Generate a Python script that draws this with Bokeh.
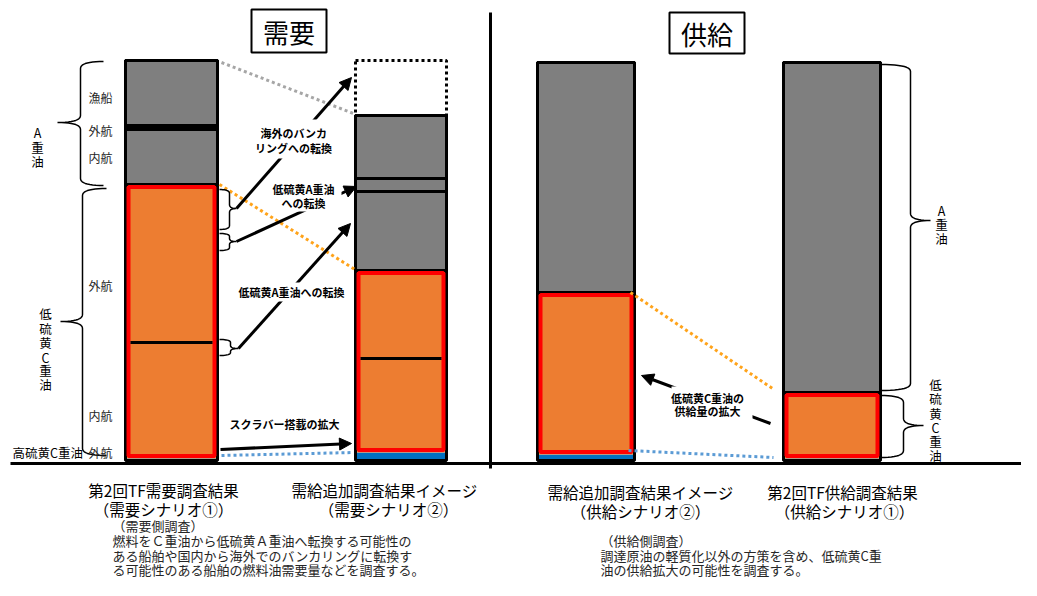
import numpy as np
from bokeh.plotting import figure
from bokeh.models import Range1d, Arrow, NormalHead, Label, BoxAnnotation
from bokeh.core.properties import value
from bokeh.embed import file_html
from bokeh.resources import INLINE

FONT = "Noto Sans CJK JP"

# ---------------- data ----------------
panel_titles = ["需要", "供給"]
scenario_titles = ["第2回TF需要調査結果", "需給追加調査結果イメージ", "需給追加調査結果イメージ", "第2回TF供給調査結果"]
scenario_subtitles = ["（需要シナリオ①）", "（需要シナリオ②）", "（供給シナリオ②）", "（供給シナリオ①）"]

demand_segments = ["高硫黄C重油 外航", "低硫黄C重油 内航", "低硫黄C重油 外航", "A重油 内航", "A重油 外航", "A重油 漁船"]
demand_scenario1 = [0.5, 29.0, 39.5, 13.75, 1.0, 16.25]
demand_scenario2 = [2.0, 23.5, 22.0, 19.75, 3.25, 15.75]
demand_scenario2_overseas = [13.75]   # 海外のバンカリングへの転換

supply_segments = ["高硫黄C重油", "低硫黄C重油", "A重油"]
supply_scenario2 = [1.5, 40.5, 57.5]
supply_scenario1 = [0.5, 16.5, 82.5]

demand_note = ["（需要側調査）",
               "燃料をＣ重油から低硫黄Ａ重油へ転換する可能性の",
               "ある船舶や国内から海外でのバンカリングに転換す",
               "る可能性のある船舶の燃料油需要量などを調査する。"]
supply_note = ["（供給側調査）",
               "調達原油の軽質化以外の方策を含め、低硫黄C重",
               "油の供給拡大の可能性を調査する。"]

arrow_texts = [["海外のバンカ", "リングへの転換"], ["低硫黄A重油", "への転換"],
               ["低硫黄A重油への転換"], ["スクラバー搭載の拡大"], ["低硫黄C重油の", "供給量の拡大"]]

# ---------------- styles / layout ----------------
GRAY = "#7f7f7f"
ORANGE = "#ed7d31"
RED = "#ff0000"
BLUE = "#0070c0"
BASE_PX = 460.0
PX_PER_UNIT = 4.0
W, H = 1021, 580


def Y(px):
    return (BASE_PX - px) / PX_PER_UNIT


p = figure(width=W, height=H, x_range=Range1d(0, W), y_range=Range1d(Y(H), Y(0)),
           x_axis_type=None, y_axis_type=None, toolbar_location=None, output_backend="svg",
           min_border=0, outline_line_color=None, background_fill_color="white")


def txt(x, ypx, s, size, align="center", bold=False, color="black"):
    p.text(x=[x], y=[Y(ypx)], text=[s], text_font=value(FONT), text_font_size=f"{size}px",
           text_align=align, text_baseline="middle", text_color=color,
           text_font_style="bold" if bold else "normal")


def vtxt(x, ypx_list, s, size=12.5):
    for ch, yy in zip(s, ypx_list):
        txt(x, yy, ch, size)


def qb(p0, c, p1, n=12):
    t = np.linspace(0, 1, n)
    xs = (1 - t) ** 2 * p0[0] + 2 * (1 - t) * t * c[0] + t ** 2 * p1[0]
    ys = (1 - t) ** 2 * p0[1] + 2 * (1 - t) * t * c[1] + t ** 2 * p1[1]
    return list(xs), list(ys)


def brace(xe, xs, xt, y0, y1, ym=None, r=7, lw=1.5):
    if ym is None:
        ym = (y0 + y1) / 2
    r = min(r, (ym - y0) / 2, (y1 - ym) / 2)
    X, YY = [], []
    for seg in [qb((xe, y0), (xs, y0), (xs, y0 + r)),
                ([xs, xs], [y0 + r, ym - r]),
                qb((xs, ym - r), (xs, ym), (xt, ym)),
                qb((xt, ym), (xs, ym), (xs, ym + r)),
                ([xs, xs], [ym + r, y1 - r]),
                qb((xs, y1 - r), (xs, y1), (xe, y1))]:
        X += list(seg[0])
        YY += list(seg[1])
    p.line(X, [Y(v) for v in YY], line_color="black", line_width=lw)


def draw_bar(x0, x1, names, vals):
    cum = np.concatenate([[0.0], np.cumsum(vals)])
    bottoms, tops = cum[:-1], cum[1:]
    for n, b, t in zip(names, bottoms, tops):
        if n.startswith("A"):
            fc = "black" if t - b < 1.5 else GRAY
            p.quad(left=[x0], right=[x1], bottom=[b], top=[t], fill_color=fc,
                   line_color="black", line_width=3)
        elif n.startswith("低"):
            p.quad(left=[x0], right=[x1], bottom=[b], top=[t], fill_color=ORANGE, line_color=None)
        else:
            p.quad(left=[x0], right=[x1], bottom=[b], top=[t], fill_color=BLUE, line_color=None)
    p.quad(left=[x0], right=[x1], bottom=[0], top=[cum[-1]], fill_color=None,
           line_color="black", line_width=3)
    low = [(b, t) for n, b, t in zip(names, bottoms, tops) if n.startswith("低")]
    lb, lt = low[0][0], low[-1][1]
    p.quad(left=[x0 + 3], right=[x1 - 3], bottom=[lb + 0.6], top=[lt - 0.6], fill_color=None,
           line_color=RED, line_width=4)
    for b, t in low[:-1]:
        p.segment(x0=[x0 + 5], y0=[t], x1=[x1 - 5], y1=[t], line_color="black", line_width=3)
    return cum


BARS = [(125, 217), (355, 446), (537, 634), (783, 880)]

# dashed box (海外バンカリングへ転換分)
c2_total = float(np.sum(demand_scenario2))
p.quad(left=[BARS[1][0]], right=[BARS[1][1]], bottom=[c2_total],
       top=[c2_total + demand_scenario2_overseas[0]], fill_color="white",
       line_color="black", line_width=3, line_dash="3 3")

c1 = draw_bar(*BARS[0], demand_segments, demand_scenario1)
c2 = draw_bar(*BARS[1], demand_segments, demand_scenario2)
c3 = draw_bar(*BARS[2], supply_segments, supply_scenario2)
c4 = draw_bar(*BARS[3], supply_segments, supply_scenario1)

# dotted connectors
p.line([BARS[0][1] + 4, BARS[1][0] - 2], [c1[-1] - 0.5, c2[-1] + 0.5], line_color="#a6a6a6",
       line_width=3, line_dash="3 3")
p.line([BARS[0][1] + 2, BARS[1][0] + 1], [c1[3], c2[3]], line_color="#ffa31a",
       line_width=3, line_dash="3 3")
p.line([BARS[0][1] + 4, BARS[1][0] - 2], [Y(455), Y(452)], line_color="#5b9bd5",
       line_width=3, line_dash="3 3")
p.line([BARS[2][1] - 4, BARS[3][0] - 11], [c3[2], c4[2] + 1], line_color="#ffa31a",
       line_width=3, line_dash="3 3")
p.line([BARS[2][1] - 6, BARS[3][0] - 10], [Y(450), Y(457)], line_color="#5b9bd5",
       line_width=3, line_dash="3 3")

# axes lines
p.line([10, W], [Y(463), Y(463)], line_color="black", line_width=3)
p.line([490, 490], [Y(12), Y(468)], line_color="black", line_width=3)

# panel title boxes
p.quad(left=[251], right=[326], top=[Y(9)], bottom=[Y(52)], fill_color="white",
       line_color="black", line_width=2)
txt(288.5, 31, panel_titles[0], 26)
p.quad(left=[669], right=[744], top=[Y(12)], bottom=[Y(53)], fill_color="white",
       line_color="black", line_width=2)
txt(706.5, 33, panel_titles[1], 26)

# braces
brace(103, 80, 57, 61, 185, ym=122)
brace(106, 82, 60, 188, 455, ym=321)
brace(880, 910, 930, 64, 390, ym=220)
brace(880, 903, 923, 395, 457, ym=425)
brace(219, 229, 236, 189, 229, ym=208, r=4)
brace(219, 229, 236, 233, 250, ym=241, r=3)
brace(219, 230, 238, 339, 355, ym=348, r=3)

# left labels
for s, yy in [("漁船", 97), ("外航", 130), ("内航", 157), ("外航", 285), ("内航", 415), ("外航", 452)]:
    txt(100, yy, s, 12, color="#262626")
txt(12, 452, "高硫黄C重油", 12.5, align="left")
vtxt(37, [132, 147, 161], "A重油")
vtxt(45, [313, 328, 342, 357, 370, 384], "低硫黄C重油")
vtxt(941, [210, 224, 238], "A重油")
vtxt(935, [384, 398, 413, 427, 441, 455], "低硫黄C重油")

# arrows
arrows = [(236, 208, 351, 77), (236, 241, 356, 186), (238, 348, 350, 223),
          (220, 449, 351, 443), (770, 423, 641, 375)]
for xa, ya, xb, yb in arrows:
    p.add_layout(Arrow(end=NormalHead(size=12, fill_color="black", line_color="black", line_width=1),
                       x_start=xa, y_start=Y(ya), x_end=xb, y_end=Y(yb),
                       line_width=3, line_color="black"))

for l, r, t, b in [(250, 338, 119, 158), (268, 341, 179, 211), (236, 346, 282, 301), (671, 752, 386, 420)]:
    p.add_layout(BoxAnnotation(left=l, right=r, top=Y(t), bottom=Y(b), fill_color="white",
                               fill_alpha=1.0, line_alpha=0))


def lab(x, ypx, s, size=11):
    p.add_layout(Label(x=x, y=Y(ypx), text=s, text_font=FONT, text_font_size=f"{size}px",
                       text_font_style="bold", text_align="center", text_baseline="middle",
                       text_color="black"))


lab(293, 132, arrow_texts[0][0]); lab(293, 147, arrow_texts[0][1])
lab(303, 188, arrow_texts[1][0]); lab(303, 202, arrow_texts[1][1])
lab(291, 291, arrow_texts[2][0])
lab(284, 423, arrow_texts[3][0])
lab(707, 397, arrow_texts[4][0]); lab(707, 410, arrow_texts[4][1])

# bottom titles
txt(163, 489, scenario_titles[0], 15.5)
txt(163, 508, scenario_subtitles[0], 15.5)
txt(384, 489, scenario_titles[1], 15.5)
txt(388, 508, scenario_subtitles[1], 15.5)
txt(640, 491, scenario_titles[2], 15.5)
txt(640, 510, scenario_subtitles[2], 15.5)
txt(842, 491, scenario_titles[3], 15.5)
txt(844, 510, scenario_subtitles[3], 15.5)

for s, yy in zip(demand_note, [525, 540, 554.5, 569]):
    txt(112, yy, s, 13, align="left", color="#262626")
for s, yy in zip(supply_note, [540, 554.5, 569]):
    txt(600, yy, s, 13, align="left", color="#262626")

open("out.html", "w").write(file_html(p, INLINE))
